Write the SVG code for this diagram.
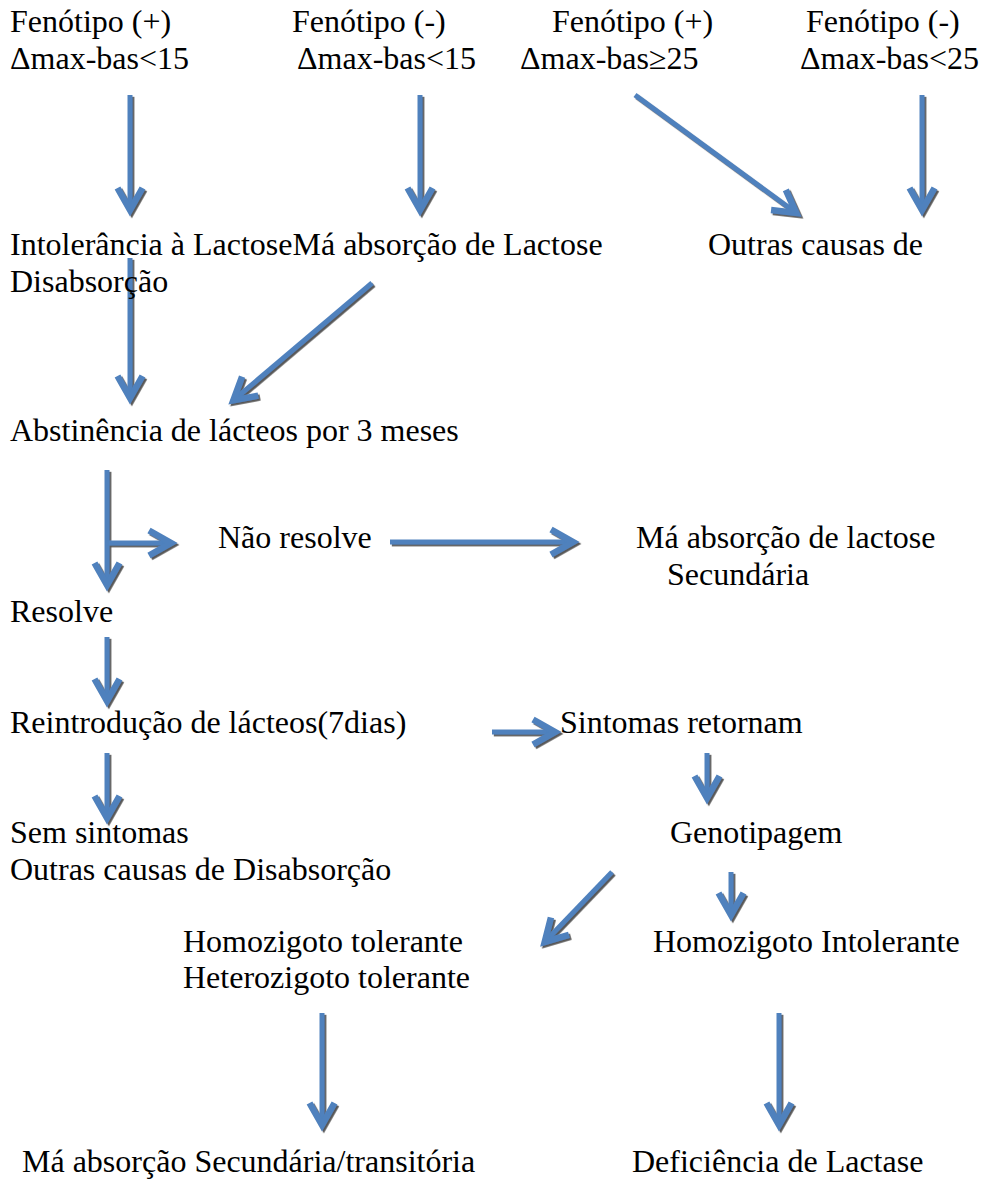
<svg xmlns="http://www.w3.org/2000/svg" width="981" height="1183" viewBox="0 0 981 1183">
<style>
text{font-family:"Liberation Serif","Times New Roman",serif;font-size:32px;fill:#000}
.ar{stroke:#4f81bd;stroke-width:5;fill:none;marker-end:url(#head)}
</style>
<defs>
<marker id="head" markerUnits="userSpaceOnUse" markerWidth="50" markerHeight="50" viewBox="-30 -25 50 50" refX="0" refY="0" orient="auto">
<polyline points="-23,-12.5 -1,0 -23,12.5" fill="none" stroke="#4f81bd" stroke-width="6.5" stroke-linejoin="miter" stroke-miterlimit="6"/>
</marker>
<filter id="sh" x="-20%" y="-20%" width="140%" height="140%">
<feDropShadow dx="1.8" dy="1.8" stdDeviation="0.6" flood-color="#3a3a3a" flood-opacity="0.85"/>
</filter>
</defs>
<rect width="981" height="1183" fill="#fff"/>
<g id="connectors" filter="url(#sh)">
<line class="ar" x1="130" y1="95" x2="130" y2="211"/>
<line class="ar" x1="420" y1="95" x2="420" y2="211"/>
<line class="ar" x1="635" y1="95" x2="797" y2="213.5"/>
<line class="ar" x1="922" y1="95" x2="922" y2="211"/>
<line class="ar" x1="130" y1="258" x2="130" y2="399"/>
<line class="ar" x1="372" y1="283" x2="232.6" y2="401"/>
<line class="ar" x1="107" y1="470" x2="107" y2="586"/>
<line class="ar" x1="107" y1="543" x2="172" y2="543"/>
<line class="ar" x1="390" y1="542" x2="574" y2="542"/>
<line class="ar" x1="107" y1="637" x2="107" y2="702"/>
<line class="ar" x1="107" y1="753" x2="107" y2="819"/>
<line class="ar" x1="492" y1="732" x2="556" y2="732"/>
<line class="ar" x1="707" y1="753" x2="707" y2="799"/>
<line class="ar" x1="612" y1="872" x2="544" y2="942.7"/>
<line class="ar" x1="731" y1="872" x2="731" y2="916"/>
<line class="ar" x1="322" y1="1013" x2="322" y2="1126"/>
<line class="ar" x1="779" y1="1013" x2="779" y2="1126"/>
</g>
<g id="n1"><text x="10" y="32">Fenótipo (+)</text><text x="10" y="69">Δmax-bas&lt;15</text></g>
<g id="n2"><text x="292" y="32">Fenótipo (-)</text><text x="297" y="69">Δmax-bas&lt;15</text></g>
<g id="n3"><text x="552" y="32">Fenótipo (+)</text><text x="520" y="69">Δmax-bas≥25</text></g>
<g id="n4"><text x="806" y="32">Fenótipo (-)</text><text x="800" y="69">Δmax-bas&lt;25</text></g>
<g id="n5"><text x="10" y="255">Intolerância à LactoseMá absorção de Lactose</text><text x="10" y="292">Disabsorção</text></g>
<g id="n6"><text x="708" y="255">Outras causas de</text></g>
<g id="n7"><text x="10" y="441">Abstinência de lácteos por 3 meses</text></g>
<g id="n8"><text x="218" y="548">Não resolve</text></g>
<g id="n9"><text x="636" y="548">Má absorção de lactose</text><text x="667" y="585">Secundária</text></g>
<g id="n10"><text x="10" y="622">Resolve</text></g>
<g id="n11"><text x="10" y="733">Reintrodução de lácteos(7dias)</text></g>
<g id="n12"><text x="560" y="733">Sintomas retornam</text></g>
<g id="n13"><text x="10" y="843">Sem sintomas</text><text x="10" y="880">Outras causas de Disabsorção</text></g>
<g id="n14"><text x="670" y="843">Genotipagem</text></g>
<g id="n15"><text x="183" y="952">Homozigoto tolerante</text><text x="183" y="988">Heterozigoto tolerante</text></g>
<g id="n16"><text x="653" y="952">Homozigoto Intolerante</text></g>
<g id="n17"><text x="22" y="1172">Má absorção Secundária/transitória</text></g>
<g id="n18"><text x="632" y="1172">Deficiência de Lactase</text></g>
</svg>
